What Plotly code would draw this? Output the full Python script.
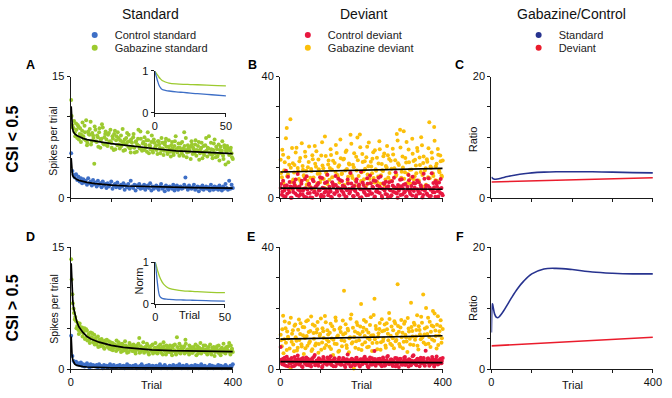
import plotly.graph_objects as go

W, H = 672, 398
FONT = "Liberation Sans, Arial, sans-serif"

# ---------------- data ----------------
# trial numbers of the plotted points (two interleaved sets of trials)
trials = list(range(1, 401, 3))
trials_b = list(range(2, 401, 3))

# Panel A (CSI < 0.5), standard
gab_std_A = [12.1, 9.0, 8.6, 8.1, 9.2, 7.4, 8.8, 7.9, 6.9, 8.3,
             7.6, 8.9, 7.1, 6.5, 8.2, 7.8, 9.4, 7.0, 7.7, 4.2,
             8.4, 6.9, 7.5, 8.1, 6.2, 7.3, 8.7, 6.6, 7.9, 7.2,
             6.4, 8.0, 7.0, 6.8, 7.6, 5.9, 8.3, 7.1, 6.5, 7.4,
             6.1, 7.7, 6.9, 5.8, 7.2, 6.6, 8.0, 6.3, 7.0, 5.6,
             6.8, 7.5, 6.2, 6.9, 5.7, 7.3, 6.4, 8.2, 6.0, 6.7,
             5.9, 6.6, 7.1, 8.1, 5.5, 6.4, 6.9, 5.8, 7.2, 6.1,
             6.5, 5.4, 7.0, 6.2, 5.9, 6.8, 5.3, 6.6, 7.3, 5.7,
             6.3, 6.0, 5.1, 6.9, 5.6, 6.4, 7.6, 5.8, 6.2, 5.2,
             6.7, 5.5, 6.1, 8.1, 5.9, 5.0, 6.5, 5.7, 6.3, 7.0,
             5.4, 6.0, 6.6, 5.2, 5.8, 6.9, 5.5, 6.2, 4.9, 6.4,
             5.7, 7.4, 5.1, 6.1, 5.6, 6.8, 5.3, 5.9, 7.2, 5.0,
             6.0, 5.4, 4.6, 6.3, 5.8, 5.2, 6.5, 4.1, 5.7, 6.1,
             5.3, 5.9, 5.5, 4.8]
gab_std_A_b = [10.1, 8.7, 9.5, 7.6, 8.4, 9.0, 7.2, 8.6, 7.8, 9.3,
               7.3, 8.1, 9.6, 6.8, 7.9, 8.5, 6.6, 8.0, 7.4, 8.8,
               7.0, 7.7, 6.3, 8.6, 7.2, 9.1, 6.7, 7.5, 8.2, 6.5,
               7.8, 6.9, 8.4, 6.2, 7.3, 7.9, 6.0, 7.6, 8.1, 6.6,
               7.1, 6.4, 8.5, 6.8, 5.9, 7.4, 6.9, 7.8, 6.1, 7.2,
               6.3, 7.9, 5.6, 7.0, 6.6, 8.4, 6.1, 7.3, 5.8, 6.9,
               7.5, 6.2, 5.7, 7.1, 6.5, 6.0, 7.7, 5.6, 6.8, 6.3,
               5.9, 7.0, 6.6, 5.5, 7.4, 6.1, 5.8, 6.9, 6.3, 5.4,
               7.1, 5.7, 6.5, 6.1, 5.3, 7.0, 6.0, 5.6, 6.7, 6.2,
               5.8, 6.9, 5.2, 6.4, 7.4, 5.6, 6.1, 5.9, 4.8, 6.6,
               6.2, 5.5, 7.1, 5.9, 6.4, 4.7, 6.0, 6.8, 5.6, 5.3,
               6.5, 5.8, 6.2, 7.6, 5.4, 6.0, 4.9, 6.7, 5.5, 6.3,
               5.1, 6.6, 5.9, 5.5, 7.0, 4.8, 6.2, 5.8, 6.4, 4.4,
               5.9, 6.2, 5.0]
ctrl_std_A = [5.5, 3.3, 2.8, 2.5, 2.9, 2.2, 2.6, 2.0, 2.4, 1.8,
              2.3, 1.9, 2.1, 1.6, 2.4, 1.8, 2.0, 1.5, 2.2, 1.7,
              1.9, 1.4, 2.1, 1.6, 1.8, 1.3, 2.0, 1.5, 1.7, 1.2,
              1.8, 1.4, 1.6, 2.0, 1.1, 1.5, 1.7, 1.3, 1.9, 1.4,
              1.2, 1.6, 1.4, 1.8, 1.0, 1.5, 1.3, 1.7, 1.1, 2.1,
              1.4, 1.2, 1.6, 0.9, 1.5, 1.3, 1.7, 1.1, 1.4, 1.2,
              1.6, 1.0, 1.3, 1.5, 1.2, 1.8, 0.9, 1.4, 1.1, 1.3,
              1.5, 1.2, 1.0, 1.4, 1.7, 1.1, 1.3, 0.8, 1.5, 1.2,
              1.0, 1.4, 1.3, 1.1, 1.6, 0.9, 1.2, 1.5, 1.0, 1.3,
              1.4, 1.1, 1.2, 1.6, 2.5, 1.3, 1.0, 1.5, 1.2, 1.1,
              1.3, 1.6, 1.0, 1.2, 1.4, 0.8, 1.3, 1.1, 1.5, 1.0,
              1.2, 1.4, 1.1, 1.3, 0.9, 1.6, 1.2, 1.0, 1.4, 1.1,
              1.3, 1.0, 1.5, 1.2, 0.9, 1.4, 1.1, 1.7, 1.2, 1.0,
              2.1, 1.1, 1.6, 1.2]
fit_trials_std = [1, 2, 3, 4, 6, 8, 10, 15, 20, 30, 40, 60, 80, 100, 140, 180, 220, 260, 300, 340, 400]
gab_std_fit_A = [11.3, 10.0, 9.2, 8.7, 8.2, 8.0, 7.9, 7.7, 7.55, 7.35, 7.2, 7.0, 6.85, 6.7, 6.45, 6.2, 6.0, 5.8, 5.7, 5.6, 5.45]
ctrl_std_fit_A = [4.9, 3.6, 3.1, 2.9, 2.6, 2.5, 2.4, 2.25, 2.15, 2.0, 1.9, 1.75, 1.65, 1.55, 1.45, 1.38, 1.32, 1.28, 1.25, 1.22, 1.2]

# insets (normalised fits, first 50 trials)
inset_trials = [0, 1, 2, 3, 4, 5, 6, 8, 10, 15, 20, 25, 30, 40, 50]
gab_norm_A = [1.0, 0.95, 0.9, 0.85, 0.81, 0.78, 0.76, 0.73, 0.71, 0.69, 0.68, 0.675, 0.67, 0.655, 0.645]
ctrl_norm_A = [1.0, 0.88, 0.76, 0.66, 0.6, 0.56, 0.545, 0.53, 0.52, 0.5, 0.485, 0.47, 0.455, 0.43, 0.405]
gab_norm_D = [1.0, 0.88, 0.76, 0.66, 0.58, 0.52, 0.47, 0.41, 0.37, 0.33, 0.31, 0.3, 0.29, 0.275, 0.265]
ctrl_norm_D = [1.0, 0.68, 0.38, 0.2, 0.15, 0.13, 0.12, 0.11, 0.105, 0.095, 0.09, 0.085, 0.08, 0.07, 0.065]

# Panel B (CSI < 0.5), deviant
gab_dev_B = [12.5, 6.8, 14.2, 9.1, 3.5, 23.0, 7.7, 10.9, 25.9, 5.2,
             11.4, 8.3, 4.1, 16.5, 9.8, 6.2, 13.1, 2.9, 10.5, 7.4,
             15.2, 8.9, 5.6, 11.8, 3.8, 9.5, 14.0, 6.7, 17.1, 10.2,
             4.7, 12.6, 8.0, 6.1, 18.3, 9.7, 3.2, 13.8, 7.5, 11.0,
             5.9, 16.0, 9.3, 12.2, 4.4, 8.6, 14.8, 6.9, 10.7, 19.2,
             7.8, 3.6, 12.9, 9.0, 15.6, 5.3, 11.3, 8.2, 17.8, 6.5,
             10.1, 4.0, 13.5, 19.9, 7.2, 20.9, 5.5, 14.4, 8.7, 12.0,
             3.9, 16.8, 10.4, 6.3, 11.9, 8.1, 15.0, 5.0, 9.4, 13.2,
             7.0, 18.6, 4.6, 11.1, 8.8, 14.6, 6.0, 10.0, 14.0, 12.8,
             5.7, 9.6, 16.2, 3.4, 12.4, 7.6, 18.9, 10.8, 22.4, 6.6,
             13.6, 21.9, 8.4, 11.6, 4.9, 15.9, 9.2, 6.4, 19.5, 12.1,
             7.1, 10.6, 16.4, 5.1, 13.3, 8.5, 17.3, 11.5, 3.7, 9.7,
             12.7, 6.8, 24.9, 10.3, 14.9, 8.0, 23.3, 5.8, 11.2, 16.1,
             9.0, 13.9, 7.3, 12.3]
gab_dev_B_b = [8.2, 15.8, 4.9, 11.7, 19.6, 7.1, 13.3, 2.6, 9.9, 16.4,
               6.0, 10.8, 14.9, 3.3, 8.7, 12.0, 5.4, 18.0, 9.2, 7.0,
               13.6, 4.3, 10.1, 16.9, 6.6, 8.8, 12.7, 3.0, 11.2, 15.3,
               7.9, 9.4, 5.1, 13.9, 10.6, 6.2, 20.2, 8.3, 4.5, 12.3,
               9.8, 14.1, 6.8, 3.9, 11.5, 17.4, 7.6, 10.2, 5.0, 13.0,
               8.0, 12.6, 4.2, 15.1, 9.5, 6.9, 11.0, 20.8, 7.3, 10.9,
               14.7, 5.8, 9.0, 12.4, 3.5, 16.7, 8.4, 11.8, 6.1, 9.6,
               13.4, 7.7, 18.2, 4.8, 10.3, 12.9, 6.5, 15.7, 8.9, 5.2,
               11.3, 16.0, 7.4, 9.1, 13.7, 4.0, 10.5, 17.1, 6.7, 8.2,
               12.2, 5.5, 14.3, 9.7, 7.1, 21.0, 11.4, 3.8, 16.6, 8.6,
               10.0, 6.3, 13.1, 18.4, 7.8, 11.7, 4.6, 9.3, 14.5, 6.0,
               12.5, 8.1, 15.4, 5.7, 10.8, 20.0, 7.5, 13.6, 9.0, 4.3,
               11.9, 16.3, 6.4, 9.8, 13.0, 7.2, 18.8, 10.4, 5.6, 14.2,
               8.4, 12.0, 6.9]
ctrl_dev_B = [3.2, 1.0, 5.6, 2.4, 0.3, 4.1, 6.9, 1.8, 3.7, 0.0,
              2.9, 5.0, 1.4, 3.5, 7.8, 0.6, 2.2, 4.6, 1.1, 3.0,
              6.2, 0.2, 2.7, 4.3, 1.6, 3.3, 0.0, 5.4, 2.0, 3.8,
              1.2, 4.9, 2.5, 0.4, 6.5, 3.1, 1.7, 2.8, 5.2, 0.8,
              3.6, 2.1, 0.1, 4.4, 1.5, 7.2, 2.6, 3.4, 0.7, 5.8,
              2.3, 4.0, 1.0, 3.2, 0.3, 6.0, 2.9, 1.9, 4.7, 3.5,
              0.5, 2.4, 5.3, 1.3, 3.9, 0.0, 8.6, 2.7, 4.2, 1.6,
              3.0, 6.4, 0.9, 2.2, 4.8, 1.4, 3.3, 0.2, 5.5, 2.6,
              1.8, 3.7, 7.0, 0.6, 2.9, 4.5, 1.2, 3.4, 0.1, 5.1,
              2.5, 0.8, 4.0, 6.6, 1.7, 3.1, 0.0, 2.3, 5.9, 3.8,
              1.1, 4.3, 2.0, 0.4, 3.6, 7.5, 1.9, 2.8, 0.7, 4.9,
              3.3, 0.2, 5.7, 2.1, 1.5, 4.1, 2.7, 0.9, 6.3, 3.0,
              1.4, 3.9, 0.5, 2.6, 8.1, 1.8, 3.5, 0.3, 4.6, 2.2,
              5.0, 1.6, 3.2, 0.8]
ctrl_dev_B_b = [4.5, 2.0, 0.6, 3.9, 8.9, 1.3, 2.8, 5.2, 0.0, 3.4,
                1.9, 4.1, 6.0, 0.8, 2.6, 3.7, 1.1, 5.6, 2.3, 0.4,
                3.1, 7.1, 1.5, 4.6, 0.2, 2.9, 5.9, 1.8, 3.5, 0.9,
                4.3, 2.4, 6.8, 1.0, 3.3, 0.5, 4.9, 2.1, 7.6, 1.6,
                2.7, 0.3, 5.1, 3.8, 1.2, 4.2, 2.0, 6.3, 0.7, 3.0,
                5.5, 1.7, 3.6, 0.1, 2.5, 4.7, 1.4, 8.2, 2.9, 0.6,
                3.9, 2.2, 6.1, 1.0, 4.4, 2.8, 0.2, 5.0, 1.9, 3.2,
                0.8, 4.6, 2.5, 7.3, 1.3, 3.6, 5.7, 0.4, 2.1, 4.0,
                6.6, 1.6, 3.1, 0.0, 4.8, 2.4, 5.3, 1.1, 3.8, 2.7,
                0.5, 5.4, 2.0, 3.5, 8.4, 1.4, 4.2, 2.9, 0.9, 6.1,
                3.0, 1.7, 4.5, 0.3, 2.6, 5.8, 1.2, 3.9, 6.9, 2.2,
                4.7, 0.8, 2.8, 5.1, 1.5, 3.4, 0.1, 7.9, 2.3, 4.0,
                1.0, 6.4, 3.3, 0.6, 2.7, 4.9, 1.8, 5.5, 3.6, 0.4,
                2.9, 6.2, 1.3]
fit_trials_dev = [0, 400]
gab_dev_fit_B = [8.5, 9.7]
ctrl_dev_fit_B = [3.2, 2.8]

# Panel C (CSI < 0.5), ratio
ratio_trials_C = [0, 3, 6, 10, 15, 25, 40, 60, 80, 100, 130, 160, 200, 250, 300, 350, 400]
ratio_std_C = [3.4, 3.2, 3.1, 3.05, 3.1, 3.25, 3.5, 3.75, 3.95, 4.1, 4.22, 4.28, 4.3, 4.28, 4.22, 4.15, 4.1]
ratio_dev_trials = [0, 200, 400]
ratio_dev_C = [2.6, 2.95, 3.3]

# Panel D (CSI > 0.5), standard
gab_std_D = [13.5, 9.2, 7.4, 6.1, 5.9, 5.3, 4.8, 5.6, 4.6, 5.1,
             4.4, 5.0, 3.8, 4.7, 4.1, 3.6, 4.5, 3.9, 3.3, 4.2,
             3.5, 3.0, 4.0, 3.4, 2.8, 3.7, 3.1, 2.6, 3.5, 3.0,
             2.7, 3.4, 2.9, 2.4, 3.2, 2.6, 3.0, 2.2, 2.9, 3.3,
             2.5, 2.1, 3.1, 2.7, 2.3, 2.9, 2.0, 2.6, 3.2, 2.4,
             2.8, 2.2, 2.5, 1.9, 2.9, 2.4, 3.8, 2.1, 2.6, 2.3,
             2.0, 2.7, 2.4, 2.9, 1.8, 2.5, 2.2, 3.0, 2.1, 2.6,
             2.3, 1.9, 2.8, 2.4, 2.0, 2.6, 3.3, 2.2, 1.8, 2.5,
             2.7, 2.1, 2.4, 1.7, 2.9, 2.3, 2.0, 3.9, 2.2, 3.1,
             1.9, 2.5, 2.2, 2.8, 3.6, 2.1, 2.4, 1.8, 2.7, 2.3,
             2.0, 2.6, 2.3, 1.7, 2.8, 2.2, 2.5, 1.9, 2.4, 2.9,
             2.1, 2.4, 1.8, 2.7, 2.2, 2.0, 2.6, 2.3, 1.6, 2.5,
             2.8, 2.0, 2.3, 1.7, 2.6, 2.1, 2.4, 1.9, 2.7, 2.2,
             3.2, 1.8, 2.4, 2.1]
gab_std_D_b = [11.0, 8.1, 6.9, 6.4, 5.0, 5.7, 4.3, 5.2, 4.8, 4.0,
               4.6, 3.7, 4.9, 3.5, 4.3, 3.2, 3.9, 4.4, 3.6, 3.0,
               3.8, 3.3, 2.7, 3.6, 3.2, 2.9, 3.4, 2.5, 3.1, 3.6,
               2.9, 2.5, 3.3, 2.8, 2.3, 3.0, 2.7, 3.5, 2.4, 2.8,
               3.0, 2.6, 2.2, 2.9, 3.4, 2.4, 2.7, 2.1, 3.0, 2.5,
               2.2, 3.0, 2.7, 2.3, 2.6, 3.1, 2.0, 2.8, 2.4, 3.3,
               2.6, 2.2, 3.1, 2.0, 2.7, 2.4, 2.9, 1.9, 2.5, 3.2,
               2.0, 2.7, 2.3, 3.0, 2.5, 1.8, 2.8, 2.4, 2.9, 2.1,
               2.5, 2.9, 2.0, 2.6, 2.2, 3.0, 1.8, 2.7, 2.4, 2.0,
               2.8, 2.3, 2.6, 1.9, 3.1, 2.4, 2.1, 2.9, 2.5, 2.0,
               2.7, 2.2, 3.0, 2.4, 1.9, 2.6, 3.2, 2.1, 2.5, 2.3,
               2.9, 2.0, 2.5, 2.2, 3.0, 1.8, 2.4, 2.7, 2.1, 2.6,
               2.3, 2.9, 1.9, 2.5, 2.2, 3.1, 2.0, 2.6, 2.4, 2.8,
               2.1, 2.9, 2.5]
ctrl_std_D = [4.1, 1.6, 1.0, 0.8, 0.9, 0.6, 0.7, 0.5, 0.8, 0.4,
              0.6, 0.3, 0.5, 0.7, 0.4, 0.2, 0.6, 0.3, 0.5, 0.4,
              0.3, 0.5, 0.2, 0.6, 0.4, 0.3, 0.1, 0.5, 0.3, 0.4,
              0.2, 0.4, 0.6, 0.3, 0.1, 0.5, 0.3, 0.2, 0.4, 0.3,
              0.5, 0.2, 0.3, 0.4, 0.1, 0.3, 0.6, 0.2, 0.4, 0.3,
              0.2, 0.4, 0.3, 0.5, 0.1, 0.3, 0.2, 0.4, 0.6, 0.2,
              0.3, 0.1, 0.4, 0.2, 0.5, 0.3, 0.2, 0.4, 0.1, 0.3,
              0.4, 0.2, 0.3, 0.6, 0.1, 0.3, 0.2, 0.5, 0.3, 0.1,
              0.2, 0.4, 0.3, 0.1, 0.5, 0.2, 0.3, 0.4, 0.2, 0.6,
              0.3, 0.1, 0.4, 0.2, 0.3, 0.5, 0.1, 0.3, 0.2, 0.4,
              0.1, 0.3, 0.5, 0.2, 0.4, 0.1, 0.3, 0.6, 0.2, 0.3,
              0.4, 0.2, 0.1, 0.3, 0.5, 0.2, 0.4, 0.1, 0.3, 0.2,
              0.3, 0.5, 0.2, 0.4, 0.1, 0.3, 0.2, 0.5, 0.3, 0.1,
              0.2, 0.4, 0.3, 0.6]
fit_trials_std_D = [1, 2, 3, 5, 7, 10, 15, 20, 30, 40, 50, 70, 100, 130, 160, 200, 250, 300, 350, 400]
gab_std_fit_D = [13.0, 11.5, 10.2, 8.4, 7.5, 6.7, 5.8, 5.2, 4.5, 4.0, 3.7, 3.3, 2.9, 2.65, 2.5, 2.35, 2.25, 2.2, 2.17, 2.15]
ctrl_std_fit_D = [4.0, 2.6, 1.8, 1.1, 0.8, 0.6, 0.45, 0.38, 0.3, 0.25, 0.22, 0.18, 0.15, 0.13, 0.12, 0.11, 0.1, 0.1, 0.1, 0.1]

# Panel E (CSI > 0.5), deviant
gab_dev_E = [11.2, 7.5, 17.5, 9.8, 13.4, 6.2, 10.6, 15.1, 0.3, 8.9,
             12.7, 5.8, 14.6, 9.3, 7.0, 16.2, 11.5, 8.1, 13.8, 4.9,
             10.2, 15.7, 7.6, 12.1, 9.0, 17.2, 6.5, 11.8, 14.2, 8.4,
             13.0, 5.3, 10.9, 16.6, 8.7, 12.4, 6.9, 15.3, 9.6, 11.3,
             7.3, 14.8, 10.0, 4.6, 12.9, 16.9, 8.2, 11.0, 6.0, 13.6,
             9.4, 15.9, 25.7, 11.7, 7.8, 13.2, 5.5, 10.4, 17.9, 8.8,
             0.2, 12.3, 9.1, 14.4, 6.6, 11.4, 21.3, 8.0, 13.5, 10.8,
             15.5, 7.1, 12.0, 9.7, 17.0, 5.9, 11.1, 23.0, 14.1, 8.6,
             10.6, 13.1, 6.3, 16.3, 9.2, 12.6, 7.7, 15.0, 11.6, 18.4,
             8.3, 13.9, 10.1, 6.8, 14.9, 9.5, 27.8, 12.2, 7.4, 16.1,
             11.9, 8.9, 15.6, 10.3, 5.6, 13.3, 9.9, 21.7, 12.5, 7.9,
             14.5, 10.7, 17.6, 6.4, 12.8, 9.8, 15.2, 24.4, 11.3, 8.1,
             13.7, 16.8, 10.5, 7.2, 14.3, 19.0, 9.3, 12.6, 6.7, 17.3,
             11.0, 14.0, 8.6, 13.1]
gab_dev_E_b = [9.4, 13.0, 5.2, 15.6, 8.6, 12.3, 10.0, 6.7, 16.8, 11.6,
               8.0, 14.2, 10.4, 6.1, 12.9, 9.5, 15.0, 7.4, 11.1, 13.7,
               6.8, 10.8, 16.0, 8.5, 12.5, 5.9, 14.6, 9.9, 7.7, 12.0,
               15.4, 8.2, 11.5, 6.3, 13.4, 10.2, 17.4, 7.9, 12.7, 9.0,
               11.9, 6.6, 14.0, 9.6, 8.3, 15.8, 10.6, 5.7, 13.2, 12.1,
               7.5, 11.3, 9.2, 14.7, 6.9, 12.6, 10.1, 16.5, 8.4, 13.5,
               10.5, 7.0, 15.3, 11.8, 9.4, 13.9, 6.2, 12.2, 16.1, 8.8,
               12.9, 10.2, 7.3, 14.4, 11.0, 8.5, 17.7, 9.8, 13.1, 6.5,
               11.7, 15.1, 8.8, 12.4, 10.0, 14.6, 7.0, 13.0, 9.4, 16.4,
               10.9, 7.8, 12.7, 15.7, 9.1, 11.5, 14.1, 8.2, 13.6, 10.4,
               6.8, 14.8, 11.2, 9.0, 16.7, 12.3, 8.0, 13.8, 10.7, 15.2,
               9.6, 12.8, 7.6, 14.0, 11.4, 17.1, 10.3, 8.7, 13.3, 20.0,
               11.5, 8.3, 15.5, 12.2, 9.7, 13.9, 18.2, 10.8, 14.5, 7.9,
               12.4, 16.0, 10.1]
ctrl_dev_E = [7.2, 2.1, 3.4, 1.3, 2.8, 4.0, 0.9, 2.5, 1.8, 3.6,
              2.2, 1.0, 3.1, 2.7, 4.4, 1.5, 2.0, 3.3, 0.7, 2.6,
              1.7, 3.8, 2.4, 1.2, 2.9, 0.8, 3.5, 2.1, 4.6, 1.6,
              2.8, 1.1, 3.2, 2.3, 0.6, 3.9, 1.9, 2.5, 1.4, 3.0,
              2.0, 4.2, 1.3, 2.7, 3.4, 0.9, 2.2, 1.7, 3.7, 2.4,
              1.5, 2.9, 3.3, 0.7, 2.1, 4.8, 1.8, 2.6, 1.0, 3.1,
              2.4, 1.2, 3.6, 2.0, 2.8, 0.8, 3.2, 1.6, 2.5, 4.0,
              1.9, 3.0, 0.6, 2.7, 1.4, 3.5, 2.2, 5.9, 1.1, 2.6,
              3.3, 1.7, 2.4, 0.9, 3.8, 2.0, 1.3, 2.9, 4.3, 1.6,
              2.5, 3.1, 1.0, 2.2, 3.6, 1.5, 2.8, 0.7, 3.4, 2.0,
              1.4, 2.7, 3.9, 1.8, 2.3, 0.8, 3.0, 1.2, 2.6, 4.5,
              2.1, 1.6, 3.2, 2.5, 0.9, 3.7, 1.9, 2.8, 1.3, 6.0,
              2.4, 3.5, 1.1, 2.9, 1.7, 3.3, 0.8, 2.2, 4.1, 1.5,
              2.7, 3.0, 1.9, 3.6]
ctrl_dev_E_b = [3.0, 1.6, 2.3, 3.7, 1.1, 2.6, 3.2, 1.9, 2.8, 0.8,
                2.5, 3.9, 1.4, 2.1, 3.3, 1.8, 2.7, 0.9, 3.6, 2.2,
                2.9, 1.3, 3.4, 2.0, 1.6, 3.1, 2.4, 4.0, 1.2, 2.7,
                1.9, 3.5, 2.2, 2.9, 1.0, 3.3, 2.5, 1.7, 3.8, 2.1,
                3.1, 1.5, 2.6, 0.9, 3.5, 2.3, 1.9, 3.0, 2.4, 1.4,
                2.8, 3.6, 1.2, 2.5, 3.2, 1.7, 2.9, 0.8, 3.4, 2.2,
                1.6, 2.9, 3.7, 2.0, 1.3, 3.1, 2.6, 1.8, 3.5, 2.3,
                3.2, 1.0, 2.4, 3.8, 2.1, 1.5, 2.8, 3.3, 1.7, 2.6,
                2.0, 3.4, 1.4, 2.7, 3.0, 1.1, 2.5, 3.9, 1.8, 2.3,
                3.1, 1.6, 2.8, 2.2, 0.9, 3.5, 2.0, 2.6, 3.3, 1.5,
                2.4, 3.7, 1.3, 2.9, 2.1, 3.2, 1.7, 2.5, 4.2, 1.9,
                2.7, 1.2, 3.4, 2.3, 3.0, 1.8, 2.6, 3.6, 1.1, 2.2,
                3.3, 2.0, 1.5, 2.8, 3.9, 2.4, 1.6, 3.1, 2.1, 2.9,
                1.8, 3.4, 2.6]
gab_dev_fit_E = [9.8, 10.9]
ctrl_dev_fit_E = [2.4, 2.1]

# Panel F (CSI > 0.5), ratio
ratio_trials_F = [0, 1, 2, 3, 5, 8, 12, 16, 20, 30, 40, 50, 65, 80, 100, 130, 160, 200, 250, 300, 350, 400]
ratio_std_F = [6.0, 9.5, 10.7, 10.6, 9.9, 9.0, 8.5, 8.4, 8.6, 9.5, 10.6, 11.7, 13.2, 14.4, 15.6, 16.4, 16.5, 16.3, 15.9, 15.7, 15.6, 15.6]
ratio_dev_F = [3.8, 4.5, 5.2]

# ---------------- styling ----------------
C_CTRL_STD = "#3e6fc6"
C_GAB_STD = "#9cca2f"
C_CTRL_DEV = "#e8173f"
C_GAB_DEV = "#fbbf0a"
C_RATIO_STD = "#27338f"
C_RATIO_DEV = "#ea1c2c"
AX = "#1a1a1a"


def xd(a, b):
    return [a / W, b / W]


def yd(top, bottom):
    return [1 - bottom / H, 1 - top / H]


boxes = {
    "": (69, 234, 72.7, 197.7),
    "2": (282.3, 447.7, 72.7, 197.7),
    "3": (497.3, 661.7, 72.7, 197.7),
    "4": (69, 234, 248.5, 374.3),
    "5": (282.3, 447.7, 248.5, 374.3),
    "6": (497.3, 661.7, 248.5, 374.3),
    "7": (154.5, 227, 67, 110),
    "8": (155, 226, 264, 307),
}

fig = go.Figure()


def sc(x, y, ax, color, size=4):
    fig.add_trace(go.Scatter(x=x, y=y, mode="markers", xaxis="x" + ax, yaxis="y" + ax,
                             marker=dict(size=size, color=color, line=dict(width=0)),
                             showlegend=False, hoverinfo="skip", cliponaxis=False))


def ln(x, y, ax, color, width=1.7, shape="linear"):
    fig.add_trace(go.Scatter(x=x, y=y, mode="lines", xaxis="x" + ax, yaxis="y" + ax,
                             line=dict(color=color, width=width, shape=shape),
                             showlegend=False, hoverinfo="skip"))


# A
sc(trials, gab_std_A, "", C_GAB_STD)
sc(trials_b, gab_std_A_b, "", C_GAB_STD)
sc(trials, ctrl_std_A, "", C_CTRL_STD)
ln(fit_trials_std, gab_std_fit_A, "", "black")
ln(fit_trials_std, ctrl_std_fit_A, "", "black")
# B
sc(trials, gab_dev_B, "2", C_GAB_DEV)
sc(trials_b, gab_dev_B_b, "2", C_GAB_DEV)
sc(trials, ctrl_dev_B, "2", C_CTRL_DEV)
sc(trials_b, ctrl_dev_B_b, "2", C_CTRL_DEV)
ln(fit_trials_dev, gab_dev_fit_B, "2", "black")
ln(fit_trials_dev, ctrl_dev_fit_B, "2", "black")
# C
ln(ratio_dev_trials, ratio_dev_C, "3", C_RATIO_DEV, 1.6)
ln(ratio_trials_C, ratio_std_C, "3", C_RATIO_STD, 1.6, "spline")
# D
sc(trials, gab_std_D, "4", C_GAB_STD)
sc(trials_b, gab_std_D_b, "4", C_GAB_STD)
sc(trials, ctrl_std_D, "4", C_CTRL_STD)
ln(fit_trials_std_D, gab_std_fit_D, "4", "black")
ln(fit_trials_std_D, ctrl_std_fit_D, "4", "black")
# E
sc(trials, gab_dev_E, "5", C_GAB_DEV)
sc(trials_b, gab_dev_E_b, "5", C_GAB_DEV)
sc(trials, ctrl_dev_E, "5", C_CTRL_DEV)
sc(trials_b, ctrl_dev_E_b, "5", C_CTRL_DEV)
ln(fit_trials_dev, gab_dev_fit_E, "5", "black")
ln(fit_trials_dev, ctrl_dev_fit_E, "5", "black")
# F
ln(ratio_dev_trials, ratio_dev_F, "6", C_RATIO_DEV, 1.6)
ln(ratio_trials_F, ratio_std_F, "6", C_RATIO_STD, 1.6, "spline")
# insets
ln(inset_trials, gab_norm_A, "7", C_GAB_STD, 1.3, "spline")
ln(inset_trials, ctrl_norm_A, "7", C_CTRL_STD, 1.3, "spline")
ln(inset_trials, gab_norm_D, "8", C_GAB_STD, 1.3, "spline")
ln(inset_trials, ctrl_norm_D, "8", C_CTRL_STD, 1.3, "spline")

# legend proxies (one legend per entry, positioned like the original)
legend_items = [
    ("Control standard", C_CTRL_STD, "legend", 111, 30),
    ("Gabazine standard", C_GAB_STD, "legend2", 111, 43),
    ("Control deviant", C_CTRL_DEV, "legend3", 328, 30),
    ("Gabazine deviant", C_GAB_DEV, "legend4", 328, 43),
    ("Standard", C_RATIO_STD, "legend5", 563, 30),
    ("Deviant", C_RATIO_DEV, "legend6", 563, 43),
]
legends = {}
for name, color, lg, tx, ty in legend_items:
    fig.add_trace(go.Scatter(x=[None], y=[None], mode="markers", name=name, legend=lg,
                             marker=dict(size=6, color=color), showlegend=True))
    legends[lg] = dict(x=(tx - 38) / W, y=1 - ty / H, xanchor="left", yanchor="middle",
                       bgcolor="rgba(0,0,0,0)", borderwidth=0, itemwidth=30,
                       font=dict(family=FONT, size=11, color="#222"), itemclick=False)

tickfont = dict(family=FONT, size=11, color="#111")
common = dict(showgrid=False, zeroline=False, showline=True, linecolor=AX, linewidth=1.2,
              ticks="outside", ticklen=3, tickwidth=1, tickcolor=AX, tickfont=tickfont,
              fixedrange=True, ticklabeloverflow="allow")

layout = dict(width=W, height=H, margin=dict(l=0, r=0, t=0, b=0),
              paper_bgcolor="white", plot_bgcolor="rgba(0,0,0,0)",
              font=dict(family=FONT, color="#111"), showlegend=True)
layout.update(legends)

y_specs = {
    "": ([0, 15], [0, 5, 10, 15], ["0", "", "", "15"]),
    "2": ([0, 40], [0, 10, 20, 30, 40], ["0", "", "", "", "40"]),
    "3": ([0, 20], [0, 5, 10, 15, 20], ["0", "", "", "", "20"]),
    "4": ([0, 15], [0, 5, 10, 15], ["0", "", "", "15"]),
    "5": ([0, 40], [0, 10, 20, 30, 40], ["0", "", "", "", "40"]),
    "6": ([0, 20], [0, 5, 10, 15, 20], ["0", "", "", "", "20"]),
    "7": ([0, 1], [0, 1], ["0", "1"]),
    "8": ([0, 1], [0, 1], ["0", "1"]),
}
for k, (x0, x1, yt, yb) in boxes.items():
    if k in ("7", "8"):
        xr, xt, xtt = [0, 50], [0, 50], ["0", "50"]
    elif k in ("", "2", "3"):
        xr, xt, xtt = [0, 400], [0, 100, 200, 300, 400], ["", "", "", "", ""]
    else:
        xr, xt, xtt = [0, 400], [0, 100, 200, 300, 400], ["0", "", "", "", "400"]
    yr, ytv, ytt = y_specs[k]
    layout["xaxis" + k] = dict(common, domain=xd(x0, x1), range=xr, tickvals=xt, ticktext=xtt,
                               anchor="y" + k)
    layout["yaxis" + k] = dict(common, domain=yd(yt, yb), range=yr, tickvals=ytv, ticktext=ytt,
                               anchor="x" + k)

anns = []


def ann(text, x, y, size, bold=False, angle=0, color="#111"):
    if bold:
        text = "<b>" + text + "</b>"
    anns.append(dict(text=text, x=x / W, y=1 - y / H, xref="paper", yref="paper",
                     showarrow=False, textangle=angle, xanchor="center", yanchor="middle",
                     font=dict(family=FONT, size=size, color=color)))


ann("Standard", 150, 8, 14)
ann("Deviant", 368, 8, 14)
ann("Gabazine/Control", 579, 8, 14)
for letter, lx, ly in [("A", 28, 61), ("B", 254, 61), ("C", 465, 61),
                       ("D", 28, 238), ("E", 253, 238), ("F", 465.5, 238)]:
    ann(letter, lx, ly, 12.5, bold=True, color="black")
ann("CSI &lt; 0.5", 10, 137, 16, bold=True, angle=-90, color="black")
ann("CSI &gt; 0.5", 10, 311, 16, bold=True, angle=-90, color="black")
ann("Spikes per trial", 51, 140, 10.5, angle=-90)
ann("Spikes per trial", 51, 313, 10.5, angle=-90)
ann("Ratio", 478.5, 137.5, 11, angle=-90)
ann("Ratio", 478.5, 311.5, 11, angle=-90)
ann("Trial", 151, 390.5, 11)
ann("Trial", 365, 390.5, 11)
ann("Trial", 579.5, 390.5, 11)
ann("Norm", 138.5, 284, 11, angle=-90)
ann("Trial", 190, 319, 11)
layout["annotations"] = anns

fig.update_layout(**layout)
# the page body has a default 8px margin; remove it so the 672x398 figure fills the window
fig.write_html("out.html",
               config={"displayModeBar": False, "staticPlot": True},
               post_script="document.body.style.margin='0';"
                           "document.documentElement.style.overflow='hidden';")
